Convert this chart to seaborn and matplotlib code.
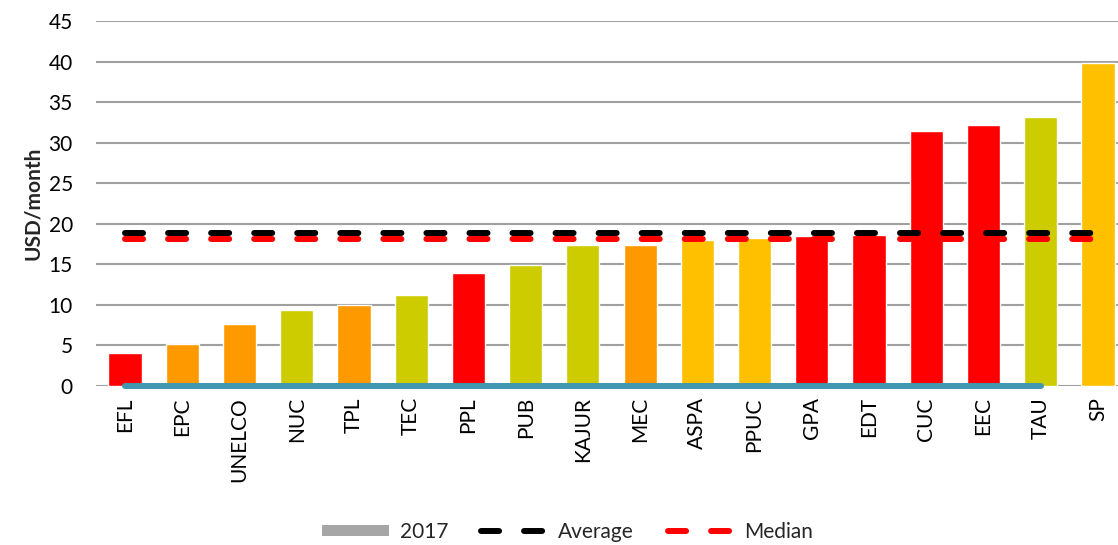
import matplotlib
matplotlib.use("Agg")
import matplotlib.pyplot as plt
from matplotlib.patches import Patch
from matplotlib.lines import Line2D
import seaborn as sns
import pandas as pd

# data
utilities = ["EFL", "EPC", "UNELCO", "NUC", "TPL", "TEC", "PPL", "PUB", "KAJUR",
             "MEC", "ASPA", "PPUC", "GPA", "EDT", "CUC", "EEC", "TAU", "SP"]
usd_month = [4.1, 5.2, 7.6, 9.4, 10.0, 11.2, 13.9, 14.9, 17.4,
             17.4, 18.0, 18.2, 18.5, 18.6, 31.4, 32.2, 33.2, 39.8]
bar_colors = ["#FF0000", "#FF9900", "#FF9900", "#CCCC00", "#FF9900", "#CCCC00",
              "#FF0000", "#CCCC00", "#CCCC00", "#FF9900", "#FFC000", "#FFC000",
              "#FF0000", "#FF0000", "#FF0000", "#FF0000", "#CCCC00", "#FFC000"]
average = 18.9
median = 18.1
teal_end = "TAU"

sns.set_theme(style="white")
plt.rcParams["font.family"] = ["Lato", "DejaVu Sans"]
plt.rcParams["lines.scale_dashes"] = False

df = pd.DataFrame({"utility": utilities, "value": usd_month})

fig = plt.figure(figsize=(11.18, 5.45), dpi=100)
ax = fig.add_axes([0.0862, 0.2917, 0.9215, 0.6697])

sns.barplot(data=df, x="utility", y="value", hue="utility", palette=bar_colors,
            order=utilities, legend=False, width=0.58, saturation=1, ax=ax, zorder=2)

n = len(utilities)
xs = list(range(n))
ax.plot(xs, [average] * n, color="black", lw=4.3, dashes=(13, 18),
        dash_capstyle="round", zorder=3)
ax.plot(xs, [median] * n, color="#FF0000", lw=4.3, dashes=(13, 18),
        dash_capstyle="round", zorder=3)
end_idx = utilities.index(teal_end)
ax.plot([0, end_idx], [0, 0], color="#4197B0", lw=4.3, solid_capstyle="round",
        zorder=4, clip_on=False)

ax.set_xlim(-0.5, n - 0.5)
ax.set_ylim(0, 45)
ax.set_yticks(range(0, 46, 5))
ax.yaxis.grid(True, color="#A0A0A0", lw=1.5)
ax.set_axisbelow(True)
for s in ax.spines.values():
    s.set_visible(False)

fs = 15
ax.tick_params(axis="y", length=0, pad=17, labelsize=fs, colors="black")
ax.tick_params(axis="x", length=0, pad=8, labelsize=fs, colors="black")
ax.set_xticks(xs)
ax.set_xticklabels(utilities, rotation=90)
ax.set_xlabel("")
ax.set_ylabel("USD/month", fontsize=fs, fontweight="bold", labelpad=4)

handles = [
    Patch(facecolor="#A6A6A6", edgecolor="none"),
    Line2D([0], [0], color="black", lw=4.3, dashes=(13, 18), dash_capstyle="round"),
    Line2D([0], [0], color="#FF0000", lw=4.3, dashes=(13, 18), dash_capstyle="round"),
]
fig.legend(handles, ["2017", "Average", "Median"], loc="center",
           bbox_to_anchor=(0.508, 0.024), ncol=3, frameon=False, fontsize=fs,
           handlelength=3.2, handleheight=0.5, columnspacing=1.6, handletextpad=0.5)

fig.savefig("out.png", dpi=100)
